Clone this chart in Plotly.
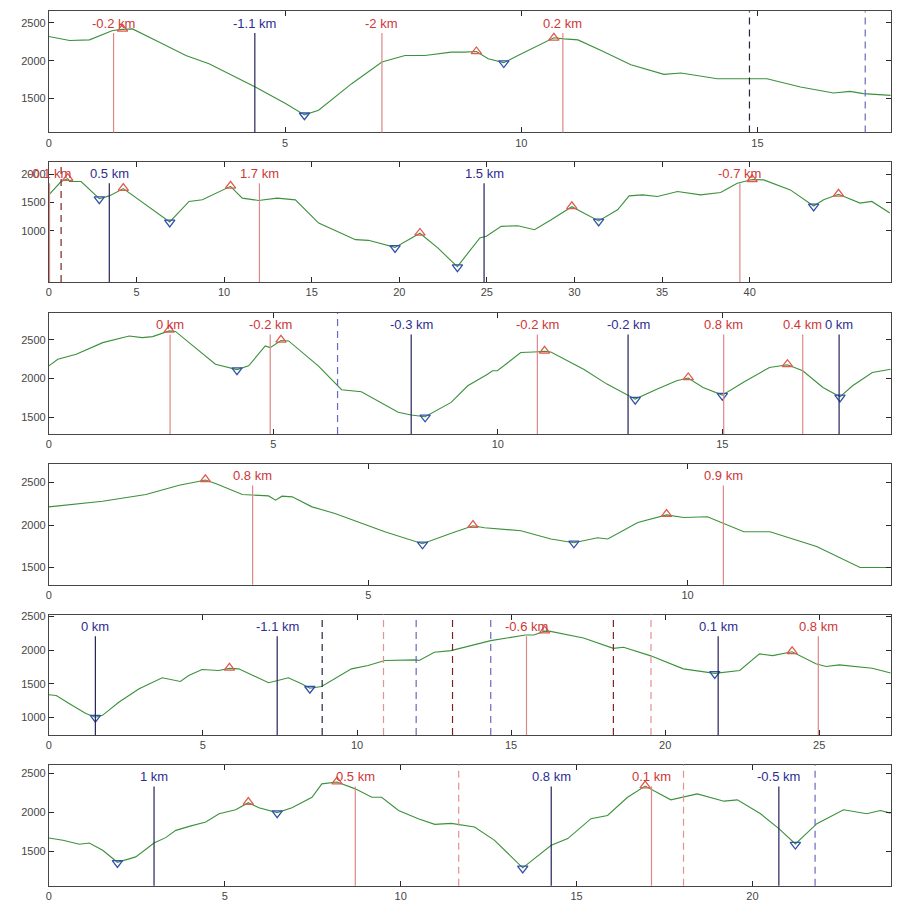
import plotly.graph_objects as go

# ---------------- data ----------------
# Panel 1
p1_x = [0, 0.44, 0.86, 1.35, 1.56, 1.77, 2.34, 2.9, 3.39, 3.95, 4.37, 5.01, 5.41, 5.71, 6.41, 7.05, 7.54, 7.96, 8.52, 8.8, 9.05, 9.3, 9.63, 9.93, 10.42, 10.69, 10.91, 11.2, 11.69, 12.32, 13.02, 13.38, 14.15, 14.85, 15.2, 15.91, 16.61, 16.96, 17.24, 17.82]
p1_y = [2320, 2267, 2276, 2399, 2415, 2421, 2246, 2070, 1961, 1786, 1654, 1434, 1285, 1346, 1697, 1983, 2070, 2070, 2114, 2114, 2123, 2026, 1975, 2070, 2224, 2303, 2289, 2276, 2136, 1947, 1820, 1838, 1763, 1763, 1763, 1654, 1575, 1596, 1566, 1543]
p1_peak_x = [1.56, 9.05, 10.69]
p1_peak_y = [2421, 2123, 2303]
p1_val_x = [5.41, 9.63]
p1_val_y = [1280, 1970]
p1_sol_x = [1.37, 4.36, 7.05, 10.88]
p1_sol_c = ['r', 'b', 'r', 'r']
p1_sol_t = ['-0.2 km', '-1.1 km', '-2 km', '0.2 km']
p1_dash_x = [14.83, 17.28]
p1_dash_c = ['k', 'b']

# Panel 2
p2_x = [0, 0.7, 1.08, 1.18, 1.84, 2.88, 3.45, 4.25, 6.9, 8.0, 8.76, 10.37, 11.04, 11.97, 13.03, 14.07, 15.4, 17.5, 18.24, 19.76, 21.18, 22.2, 22.98, 23.32, 23.93, 24.6, 24.97, 25.82, 26.77, 27.72, 28.67, 29.85, 31.38, 32.46, 33.12, 33.88, 34.74, 35.88, 37.2, 38.34, 39.29, 40.14, 40.8, 42.32, 43.65, 44.22, 45.07, 46.3, 46.97, 48.0]
p2_y = [1634, 1870, 1920, 1870, 1870, 1565, 1616, 1745, 1155, 1518, 1546, 1785, 1576, 1535, 1576, 1546, 1136, 842, 830, 705, 955, 696, 462, 365, 608, 872, 901, 1077, 1088, 1018, 1194, 1425, 1172, 1370, 1616, 1634, 1605, 1694, 1634, 1676, 1840, 1905, 1898, 1722, 1437, 1546, 1645, 1488, 1518, 1312]
p2_peak_x = [1.08, 4.25, 10.37, 21.18, 29.85, 40.14, 45.07]
p2_peak_y = [1929, 1752, 1792, 960, 1430, 1910, 1651]
p2_val_x = [2.88, 6.9, 19.76, 23.32, 31.38, 43.65]
p2_val_y = [1558, 1148, 696, 356, 1165, 1430]
p2_sol_x = [0.04, 3.45, 12.02, 24.84, 39.44]
p2_sol_c = ['r', 'b', 'r', 'b', 'r']
p2_sol_t = ['-0.1 km', '0.5 km', '1.7 km', '1.5 km', '-0.7 km']
p2_dash_x = [0.7]
p2_dash_c = ['dr']

# Panel 3
p3_x = [0, 0.2, 0.61, 1.2, 1.79, 2.08, 2.31, 2.68, 2.82, 3.41, 3.71, 4.19, 4.45, 4.82, 4.93, 5.17, 5.34, 6.0, 6.45, 6.52, 6.96, 7.26, 7.78, 8.07, 8.38, 8.96, 9.33, 9.77, 9.88, 9.99, 10.51, 10.8, 11.04, 11.18, 11.91, 12.43, 13.06, 13.54, 13.98, 14.24, 14.57, 15.0, 15.46, 16.05, 16.45, 16.79, 17.24, 17.62, 17.9, 18.34, 18.75]
p3_y = [2163, 2248, 2313, 2463, 2549, 2528, 2541, 2615, 2608, 2335, 2184, 2115, 2163, 2421, 2399, 2490, 2485, 2163, 1884, 1854, 1829, 1734, 1562, 1528, 1505, 1691, 1906, 2055, 2099, 2099, 2335, 2343, 2350, 2343, 2120, 1927, 1733, 1862, 1970, 2005, 1884, 1785, 1949, 2142, 2177, 2099, 1884, 1763, 1906, 2077, 2120]
p3_peak_x = [2.68, 5.17, 11.04, 14.24, 16.45]
p3_peak_y = [2627, 2498, 2356, 2013, 2184]
p3_val_x = [4.19, 8.38, 13.06, 15.0, 17.62]
p3_val_y = [2107, 1498, 1726, 1777, 1755]
p3_sol_x = [2.70, 4.93, 8.07, 10.88, 12.9, 15.03, 16.79, 17.6]
p3_sol_c = ['r', 'r', 'b', 'r', 'b', 'r', 'r', 'b']
p3_sol_t = ['0 km', '-0.2 km', '-0.3 km', '-0.2 km', '-0.2 km', '0.8 km', '0.4 km', '0 km']
p3_dash_x = [6.43]
p3_dash_c = ['b']

# Panel 4
p4_x = [0, 0.84, 1.52, 2.04, 2.30, 2.45, 2.61, 3.03, 3.44, 3.55, 3.65, 3.81, 4.12, 4.48, 5.26, 5.85, 6.3, 6.64, 6.82, 7.39, 7.86, 8.22, 8.59, 8.75, 9.22, 9.67, 9.94, 10.31, 10.88, 11.29, 12.02, 12.7, 13.18]
p4_y = [2214, 2281, 2359, 2469, 2507, 2530, 2488, 2359, 2343, 2293, 2340, 2332, 2214, 2136, 1921, 1780, 1902, 1992, 1968, 1933, 1836, 1792, 1851, 1836, 2031, 2120, 2089, 2097, 1921, 1921, 1746, 1500, 1500]
p4_peak_x = [2.45, 6.64, 9.67]
p4_peak_y = [2539, 2000, 2129]
p4_val_x = [5.85, 8.22]
p4_val_y = [1773, 1785]
p4_sol_x = [3.19, 10.56]
p4_sol_c = ['r', 'r']
p4_sol_t = ['0.8 km', '0.9 km']
p4_dash_x = []
p4_dash_c = []

# Panel 5
p5_x = [0, 0.24, 0.67, 1.2, 1.51, 1.74, 2.28, 2.93, 3.68, 4.11, 4.27, 4.54, 4.97, 5.51, 5.86, 6.16, 7.13, 7.43, 7.77, 8.2, 8.47, 8.85, 9.82, 10.36, 10.9, 11.92, 12.02, 12.51, 13.05, 14.34, 15.47, 15.74, 16.09, 16.28, 17.35, 18.32, 18.65, 19.51, 20.59, 21.61, 22.42, 23.06, 23.49, 24.12, 24.89, 25.22, 25.65, 26.72, 27.32]
p5_y = [1338, 1327, 1205, 1058, 1005, 1032, 1229, 1426, 1588, 1549, 1534, 1622, 1711, 1696, 1728, 1721, 1515, 1549, 1588, 1500, 1433, 1460, 1721, 1770, 1844, 1854, 1844, 1966, 1991, 2139, 2223, 2223, 2280, 2276, 2178, 2025, 2040, 1917, 1721, 1654, 1696, 1942, 1917, 1974, 1795, 1755, 1780, 1730, 1660]
p5_peak_x = [5.86, 16.09, 24.12]
p5_peak_y = [1736, 2287, 1981]
p5_val_x = [1.51, 8.47, 21.61]
p5_val_y = [998, 1426, 1647]
p5_sol_x = [1.51, 7.41, 15.5, 21.72, 24.97]
p5_sol_c = ['b', 'b', 'r', 'b', 'r']
p5_sol_t = ['0 km', '-1.1 km', '-0.6 km', '0.1 km', '0.8 km']
p5_dash_x = [8.87, 10.86, 11.92, 13.1, 14.34, 18.32, 19.54]
p5_dash_c = ['k', 'r', 'b', 'dr', 'b', 'dr', 'r']

# Panel 6
p6_x = [0, 0.4, 0.87, 1.15, 1.53, 1.95, 2.47, 2.99, 3.32, 3.61, 3.99, 4.46, 4.84, 5.31, 5.67, 5.97, 6.49, 6.91, 7.48, 7.76, 8.19, 8.71, 9.18, 9.46, 9.94, 10.5, 10.97, 11.44, 12.1, 12.67, 13.47, 14.28, 14.75, 15.41, 15.88, 16.45, 16.95, 17.68, 18.43, 19.19, 19.57, 20.23, 20.75, 21.22, 21.83, 22.59, 23.25, 23.63, 23.93]
p6_y = [1673, 1644, 1593, 1610, 1517, 1363, 1432, 1610, 1678, 1771, 1822, 1877, 1983, 2034, 2124, 2060, 1998, 2060, 2194, 2365, 2388, 2301, 2194, 2194, 2025, 1920, 1848, 1860, 1813, 1644, 1292, 1581, 1666, 1920, 1962, 2194, 2336, 2161, 2237, 2144, 2161, 1983, 1793, 1597, 1856, 2034, 1983, 2025, 1991]
p6_peak_x = [5.67, 8.19, 16.95]
p6_peak_y = [2131, 2394, 2343]
p6_val_x = [1.95, 6.49, 13.47, 21.22]
p6_val_y = [1356, 1991, 1285, 1590]
p6_sol_x = [2.99, 8.71, 14.28, 17.13, 20.75]
p6_sol_c = ['b', 'r', 'b', 'r', 'b']
p6_sol_t = ['1 km', '0.5 km', '0.8 km', '0.1 km', '-0.5 km']
p6_dash_x = [11.65, 18.04, 21.78]
p6_dash_c = ['r', 'r', 'b']

# axis settings
x_max = [17.82, 48.05, 18.75, 13.18, 27.32, 23.93]
y_min = [1053, 92, 1281, 1297, 740, 1063]
y_max = [2654, 2222, 2851, 2723, 2525, 2611]
x_ticks = [[0, 5, 10, 15], [0, 5, 10, 15, 20, 25, 30, 35, 40], [0, 5, 10, 15],
           [0, 5, 10], [0, 5, 10, 15, 20, 25], [0, 5, 10, 15, 20]]
y_ticks = [[1500, 2000, 2500], [1000, 1500, 2000], [1500, 2000, 2500],
           [1500, 2000, 2500], [1000, 1500, 2000, 2500], [1500, 2000, 2500]]

panels = [
    (p1_x, p1_y, p1_peak_x, p1_peak_y, p1_val_x, p1_val_y, p1_sol_x, p1_sol_c, p1_sol_t, p1_dash_x, p1_dash_c),
    (p2_x, p2_y, p2_peak_x, p2_peak_y, p2_val_x, p2_val_y, p2_sol_x, p2_sol_c, p2_sol_t, p2_dash_x, p2_dash_c),
    (p3_x, p3_y, p3_peak_x, p3_peak_y, p3_val_x, p3_val_y, p3_sol_x, p3_sol_c, p3_sol_t, p3_dash_x, p3_dash_c),
    (p4_x, p4_y, p4_peak_x, p4_peak_y, p4_val_x, p4_val_y, p4_sol_x, p4_sol_c, p4_sol_t, p4_dash_x, p4_dash_c),
    (p5_x, p5_y, p5_peak_x, p5_peak_y, p5_val_x, p5_val_y, p5_sol_x, p5_sol_c, p5_sol_t, p5_dash_x, p5_dash_c),
    (p6_x, p6_y, p6_peak_x, p6_peak_y, p6_val_x, p6_val_y, p6_sol_x, p6_sol_c, p6_sol_t, p6_dash_x, p6_dash_c),
]

# ---------------- styles / layout ----------------
W, H = 899, 903
tops = [7.3, 158.3, 310, 461.7, 613.3, 764]
bots = [129, 279.3, 432, 583.3, 734.3, 885.7]
xdom = [46 / W, 890.7 / W]

SOL_LINE = {'r': 'rgb(222,135,135)', 'b': 'rgb(35,35,90)'}
SOL_TEXT = {'r': 'rgb(205,55,55)', 'b': 'rgb(45,45,145)'}
DASH_LINE = {'k': 'rgb(40,40,60)', 'r': 'rgb(228,145,145)', 'b': 'rgb(105,105,190)', 'dr': 'rgb(125,35,35)'}

fig = go.Figure()
shapes = []
annotations = []
layout = {}

for i, (px, py, pkx, pky, vx, vy, sx, sc, st, dx, dc) in enumerate(panels):
    n = '' if i == 0 else str(i + 1)
    xa, ya = 'x' + n, 'y' + n
    fig.add_trace(go.Scatter(x=px, y=py, mode='lines', line=dict(color='rgb(60,145,60)', width=1.1),
                             xaxis=xa, yaxis=ya, showlegend=False, hoverinfo='skip'))
    fig.add_trace(go.Scatter(x=pkx, y=pky, mode='markers',
                             marker=dict(symbol='triangle-up-open', size=9, color='rgb(225,90,80)', line=dict(width=1.3)),
                             xaxis=xa, yaxis=ya, showlegend=False))
    fig.add_trace(go.Scatter(x=vx, y=vy, mode='markers',
                             marker=dict(symbol='triangle-down-open', size=9, color='rgb(50,80,170)', line=dict(width=1.3)),
                             xaxis=xa, yaxis=ya, showlegend=False))
    for x0, c, t in zip(sx, sc, st):
        shapes.append(dict(type='line', xref=xa, yref=ya + ' domain', x0=x0, x1=x0, y0=0, y1=0.82,
                           line=dict(color=SOL_LINE[c], width=1.2), layer='above'))
        annotations.append(dict(x=x0, y=0.9, xref=xa, yref=ya + ' domain', text=t, showarrow=False,
                                xanchor='center', yanchor='middle',
                                font=dict(family='Liberation Sans, Arial', size=13, color=SOL_TEXT[c])))
    for x0, c in zip(dx, dc):
        shapes.append(dict(type='line', xref=xa, yref=ya + ' domain', x0=x0, x1=x0, y0=0, y1=1,
                           line=dict(color=DASH_LINE[c], width=1.2, dash='7px,5px'), layer='above'))
    ydom = [1 - bots[i] / H, 1 - tops[i] / H]
    axcommon = dict(showline=True, linecolor='rgb(70,70,70)', linewidth=1, mirror='ticks',
                    ticks='inside', ticklen=5, tickcolor='rgb(40,40,40)', showgrid=False, zeroline=False,
                    tickfont=dict(family='Liberation Sans, Arial', size=11, color='rgb(70,70,70)'))
    layout['xaxis' + n] = dict(domain=xdom, range=[0, x_max[i]], tickvals=x_ticks[i], anchor=ya, **axcommon)
    layout['yaxis' + n] = dict(domain=ydom, range=[y_min[i], y_max[i]], tickvals=y_ticks[i], anchor=xa, **axcommon)

fig.update_layout(width=W, height=H, margin=dict(l=0, r=0, t=0, b=0),
                  paper_bgcolor='white', plot_bgcolor='white',
                  shapes=shapes, annotations=annotations, **layout)

fig.write_html('out.html', config={'displayModeBar': False},
               post_script="document.body.style.margin='0';document.body.style.overflow='hidden';")
